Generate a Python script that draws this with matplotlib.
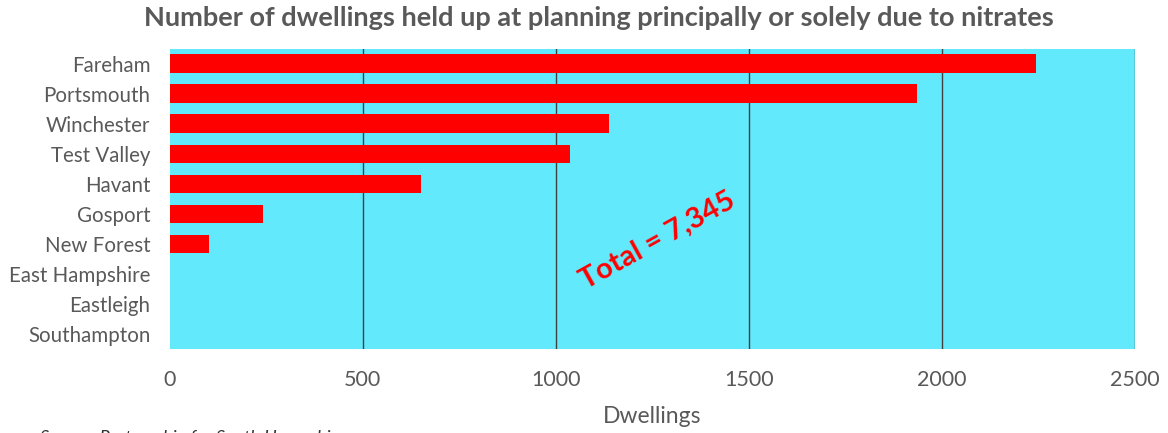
import matplotlib

matplotlib.use("Agg")
import matplotlib.pyplot as plt

# values (dwellings)
areas = [
    "Fareham",
    "Portsmouth",
    "Winchester",
    "Test Valley",
    "Havant",
    "Gosport",
    "New Forest",
    "East Hampshire",
    "Eastleigh",
    "Southampton",
]
dwellings = [2243, 1937, 1137, 1037, 650, 241, 100, 0, 0, 0]
x_ticks = [0, 500, 1000, 1500, 2000, 2500]

TEXT_GREY = "#595959"
PLOT_BG = "#63E9FC"
BAR_RED = "#FF0000"

plt.rcParams["font.family"] = ["Lato", "DejaVu Sans"]

fig = plt.figure(figsize=(11.68, 4.33), dpi=100)
ax = fig.add_axes([0.1455, 0.194, 0.826, 0.693])
ax.set_facecolor(PLOT_BG)

positions = list(range(len(areas)))
ax.barh(positions, dwellings, height=0.63, color=BAR_RED, zorder=3)

ax.set_xlim(0, 2500)
ax.set_ylim(len(areas) - 0.5, -0.5)
ax.set_xticks(x_ticks)
ax.set_xticklabels([str(t) for t in x_ticks])
ax.set_yticks(positions)
ax.set_yticklabels(areas)
ax.tick_params(axis="both", length=0, colors=TEXT_GREY)
ax.tick_params(axis="y", pad=14, labelsize=14.8)
ax.tick_params(axis="x", pad=15, labelsize=15.5)
for t in x_ticks[1:]:
    ax.axvline(t, color="#404040", linewidth=1.0, zorder=2)
for side in ("top", "bottom", "left", "right"):
    ax.spines[side].set_visible(False)

ax.set_xlabel("Dwellings", color=TEXT_GREY, fontsize=16.5, labelpad=12)
fig.suptitle(
    "Number of dwellings held up at planning principally or solely due to nitrates",
    x=0.513,
    y=0.985,
    fontsize=19.5,
    fontweight="bold",
    color=TEXT_GREY,
)

ax.text(
    1265,
    5.9,
    "Total = 7,345",
    rotation=29,
    ha="center",
    va="center",
    color=BAR_RED,
    fontsize=21,
    fontweight="bold",
    zorder=4,
)

fig.text(
    0.034,
    -0.022,
    "Source: Partnership for South Hampshire",
    fontsize=13,
    fontstyle="italic",
    color="#333333",
    va="baseline",
)

fig.savefig("out.png", dpi=100)
